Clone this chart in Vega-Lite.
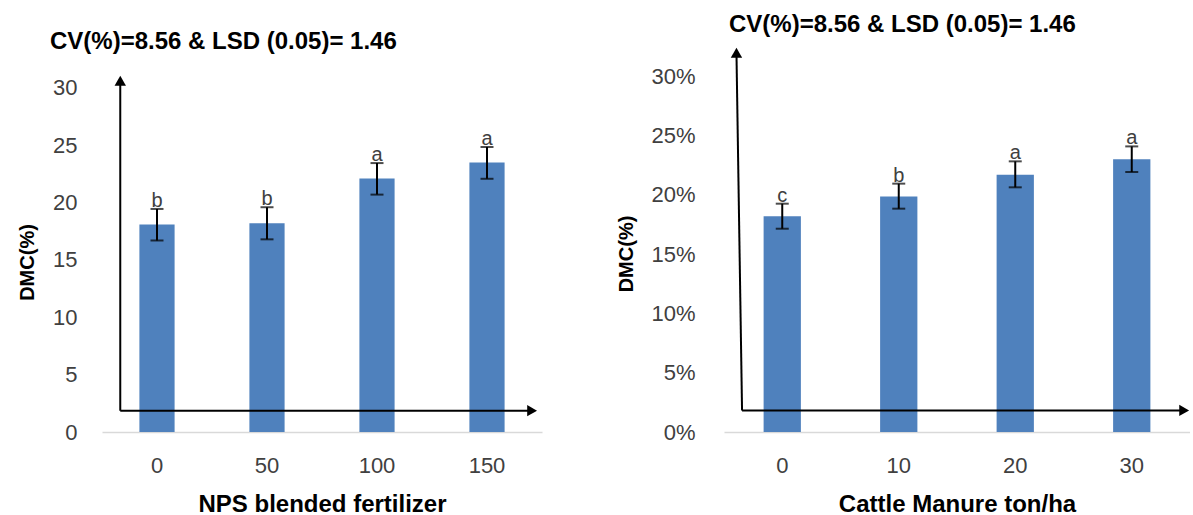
{
  "$schema": "https://vega.github.io/schema/vega-lite/v6.json",
  "padding": {"left": 17, "top": 12, "right": 0, "bottom": 0},
  "background": "white",
  "bounds": "flush",
  "spacing": 182,
  "config": {
    "font": "Liberation Sans",
    "view": {"stroke": null},
    "axis": {"grid": false, "ticks": false, "tickSize": 0, "labelFontSize": 22, "labelColor": "#404040", "titleFontSize": 24, "titleFontWeight": "bold", "titleColor": "black"}
  },
  "datasets": {
    "nps": [
      {"dose": "0", "dmc": 18.1, "lo": 16.7, "hi": 19.45, "grp": "b"},
      {"dose": "50", "dmc": 18.2, "lo": 16.8, "hi": 19.6, "grp": "b"},
      {"dose": "100", "dmc": 22.1, "lo": 20.7, "hi": 23.45, "grp": "a"},
      {"dose": "150", "dmc": 23.5, "lo": 22.08, "hi": 24.85, "grp": "a"}
    ],
    "manure": [
      {"dose": "0", "dmc": 18.2, "lo": 17.14, "hi": 19.25, "grp": "c"},
      {"dose": "10", "dmc": 19.85, "lo": 18.83, "hi": 20.94, "grp": "b"},
      {"dose": "20", "dmc": 21.7, "lo": 20.63, "hi": 22.82, "grp": "a"},
      {"dose": "30", "dmc": 23.0, "lo": 21.92, "hi": 24.08, "grp": "a"}
    ],
    "arrowsL": [
      {"head": "up", "x1": 0.166, "y1": 1.86, "x2": 0.166, "y2": 30.63},
      {"head": "right", "x1": 0.166, "y1": 1.86, "x2": 3.91, "y2": 1.86}
    ],
    "arrowsR": [
      {"head": "up", "x1": 0.155, "y1": 1.82, "x2": 0.107, "y2": 31.98},
      {"head": "right", "x1": 0.155, "y1": 1.82, "x2": 3.95, "y2": 1.82}
    ]
  },
  "hconcat": [
    {
      "width": 440,
      "height": 357,
      "title": {"text": "CV(%)=8.56 & LSD (0.05)= 1.46", "anchor": "start", "frame": "group", "fontSize": 24, "fontWeight": "bold", "color": "black", "dx": -52, "offset": 21},
      "resolve": {"scale": {"x": "independent"}},
      "layer": [
        {
          "data": {"name": "nps"},
          "encoding": {
            "x": {"field": "dose", "type": "nominal", "sort": null, "scale": {"paddingInner": 0.68, "paddingOuter": 0.34},
                  "axis": {"title": "NPS blended fertilizer", "labelAngle": 0, "domainColor": "#d9d9d9", "domainWidth": 1.5, "labelPadding": 23, "titlePadding": 16}}
          },
          "layer": [
            {
              "mark": {"type": "bar", "color": "#4f81bd"},
              "encoding": {
                "y": {"field": "dmc", "type": "quantitative", "title": "DMC(%)", "scale": {"domain": [0, 31.13], "nice": false},
                      "axis": {"values": [0, 5, 10, 15, 20, 25, 30], "domain": false, "labelPadding": 25, "titleFontSize": 20, "titlePadding": 15, "titleY": 187}}
              }
            },
            {
              "mark": {"type": "rule", "color": "black", "strokeWidth": 2},
              "encoding": {
                "y": {"field": "lo", "type": "quantitative", "title": "DMC(%)", "scale": {"domain": [0, 31.13], "nice": false}},
                "y2": {"field": "hi"}
              }
            },
            {
              "mark": {"type": "tick", "color": "black", "size": 13, "thickness": 2},
              "encoding": {
                "y": {"field": "hi", "type": "quantitative", "title": "DMC(%)", "scale": {"domain": [0, 31.13], "nice": false}}
              }
            },
            {
              "mark": {"type": "tick", "color": "black", "size": 13, "thickness": 2},
              "encoding": {
                "y": {"field": "lo", "type": "quantitative", "title": "DMC(%)", "scale": {"domain": [0, 31.13], "nice": false}}
              }
            },
            {
              "mark": {"type": "text", "fontSize": 20, "color": "#404040", "baseline": "alphabetic", "dy": -2},
              "encoding": {
                "y": {"field": "hi", "type": "quantitative", "title": "DMC(%)", "scale": {"domain": [0, 31.13], "nice": false}},
                "text": {"field": "grp"}
              }
            }
          ]
        },
        {
          "data": {"name": "arrowsL"},
          "layer": [
            {
              "mark": {"type": "rule", "color": "black", "strokeWidth": 2},
              "encoding": {
                "x": {"field": "x1", "type": "quantitative", "scale": {"domain": [0, 4], "nice": false, "zero": false}, "axis": null},
                "y": {"field": "y1", "type": "quantitative", "title": "DMC(%)", "scale": {"domain": [0, 31.13], "nice": false}},
                "x2": {"field": "x2"},
                "y2": {"field": "y2"}
              }
            },
            {
              "mark": {"type": "point", "filled": true, "color": "black", "size": 130, "opacity": 1},
              "encoding": {
                "x": {"field": "x2", "type": "quantitative", "scale": {"domain": [0, 4], "nice": false, "zero": false}, "axis": null},
                "y": {"field": "y2", "type": "quantitative", "title": "DMC(%)", "scale": {"domain": [0, 31.13], "nice": false}},
                "shape": {"field": "head", "type": "nominal", "scale": {"domain": ["up", "right"], "range": ["triangle-up", "triangle-right"]}, "legend": null}
              }
            }
          ]
        }
      ]
    },
    {
      "width": 466,
      "height": 357,
      "title": {"text": "CV(%)=8.56 & LSD (0.05)= 1.46", "anchor": "start", "frame": "group", "fontSize": 24, "fontWeight": "bold", "color": "black", "dx": 5, "offset": 11},
      "resolve": {"scale": {"x": "independent"}},
      "layer": [
        {
          "data": {"name": "manure"},
          "encoding": {
            "x": {"field": "dose", "type": "nominal", "sort": null, "scale": {"paddingInner": 0.68, "paddingOuter": 0.34},
                  "axis": {"title": "Cattle Manure ton/ha", "labelAngle": 0, "domainColor": "#d9d9d9", "domainWidth": 1.5, "labelPadding": 23, "titlePadding": 16}}
          },
          "layer": [
            {
              "mark": {"type": "bar", "color": "#4f81bd"},
              "encoding": {
                "y": {"field": "dmc", "type": "quantitative", "title": "DMC(%)", "scale": {"domain": [0, 30.1], "nice": false},
                      "axis": {"values": [0, 5, 10, 15, 20, 25, 30], "labelExpr": "datum.label + '%'", "domain": false, "labelPadding": 29, "titleFontSize": 20, "titlePadding": 14}}
              }
            },
            {
              "mark": {"type": "rule", "color": "black", "strokeWidth": 2},
              "encoding": {
                "y": {"field": "lo", "type": "quantitative", "title": "DMC(%)", "scale": {"domain": [0, 30.1], "nice": false}},
                "y2": {"field": "hi"}
              }
            },
            {
              "mark": {"type": "tick", "color": "black", "size": 13, "thickness": 2},
              "encoding": {
                "y": {"field": "hi", "type": "quantitative", "title": "DMC(%)", "scale": {"domain": [0, 30.1], "nice": false}}
              }
            },
            {
              "mark": {"type": "tick", "color": "black", "size": 13, "thickness": 2},
              "encoding": {
                "y": {"field": "lo", "type": "quantitative", "title": "DMC(%)", "scale": {"domain": [0, 30.1], "nice": false}}
              }
            },
            {
              "mark": {"type": "text", "fontSize": 20, "color": "#404040", "baseline": "alphabetic", "dy": -2},
              "encoding": {
                "y": {"field": "hi", "type": "quantitative", "title": "DMC(%)", "scale": {"domain": [0, 30.1], "nice": false}},
                "text": {"field": "grp"}
              }
            }
          ]
        },
        {
          "data": {"name": "arrowsR"},
          "layer": [
            {
              "mark": {"type": "rule", "color": "black", "strokeWidth": 2},
              "encoding": {
                "x": {"field": "x1", "type": "quantitative", "scale": {"domain": [0, 4], "nice": false, "zero": false}, "axis": null},
                "y": {"field": "y1", "type": "quantitative", "title": "DMC(%)", "scale": {"domain": [0, 30.1], "nice": false}},
                "x2": {"field": "x2"},
                "y2": {"field": "y2"}
              }
            },
            {
              "mark": {"type": "point", "filled": true, "color": "black", "size": 130, "opacity": 1},
              "encoding": {
                "x": {"field": "x2", "type": "quantitative", "scale": {"domain": [0, 4], "nice": false, "zero": false}, "axis": null},
                "y": {"field": "y2", "type": "quantitative", "title": "DMC(%)", "scale": {"domain": [0, 30.1], "nice": false}},
                "shape": {"field": "head", "type": "nominal", "scale": {"domain": ["up", "right"], "range": ["triangle-up", "triangle-right"]}, "legend": null}
              }
            }
          ]
        }
      ]
    }
  ]
}
